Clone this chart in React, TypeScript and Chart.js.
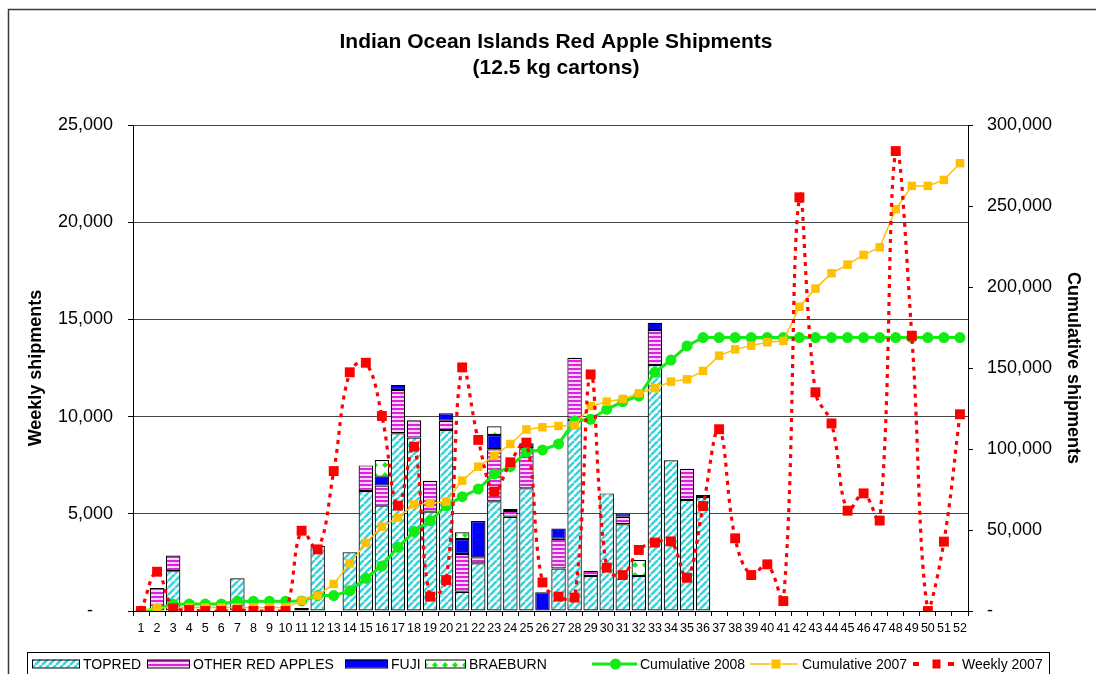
import React, { useEffect, useRef } from 'react';
import { Chart, registerables } from 'chart.js';

Chart.register(...registerables);

const FONT = '"Liberation Sans", Arial, sans-serif';

const TITLE = ['Indian Ocean Islands Red Apple Shipments', '(12.5 kg cartons)'];
const LEFT_TITLE = 'Weekly shipments';
const RIGHT_TITLE = 'Cumulative shipments';

const weeks = [
  '1', '2', '3', '4', '5', '6', '7', '8', '9', '10', '11', '12', '13',
  '14', '15', '16', '17', '18', '19', '20', '21', '22', '23', '24', '25', '26',
  '27', '28', '29', '30', '31', '32', '33', '34', '35', '36', '37', '38', '39',
  '40', '41', '42', '43', '44', '45', '46', '47', '48', '49', '50', '51', '52',
];

const N = null;

// weekly 2008 shipments (stacked bars), weeks 1..36
const topred = [
  N, N, 2050, N, N, N, 1680, N, N, N, 150, 3350, N,
  3020, 6170, 5420, 9140, 8920, 5110, 9310, 990, 2450, 5640, 4850, 6310, N,
  2190, 9820, 1800, 6050, 4460, 1800, 12650, 7750, 5710, 5870,
];
const otherRed = [
  N, 1180, 800, N, N, N, N, N, N, N, N, N, N,
  N, 1320, 1030, 2230, 890, 1590, 480, 1940, 310, 2680, 300, 2060, N,
  1530, 3210, 270, N, 390, N, 1800, N, 1610, 100,
];
const fuji = [
  N, N, N, N, N, N, N, N, N, N, N, N, N,
  N, N, 460, 260, N, N, 380, 770, 1870, 730, 100, 260, 960,
  520, N, N, N, 170, N, 380, N, N, N,
];
const braeburn = [
  N, N, N, N, N, N, N, N, N, N, N, N, N,
  N, N, 860, N, N, N, N, 350, N, 450, N, N, N,
  N, N, N, N, N, 820, N, N, N, N,
];

const cumulative2008 = [
  0, 1200, 4100, 4300, 4300, 4300, 6000, 6000, 6000, 6000, 6200, 9500, 9500,
  12500, 20200, 27800, 39300, 49000, 55700, 65000, 70600, 75300, 84600, 89100, 98300, 99400,
  103100, 117300, 118300, 124500, 129200, 132700, 147300, 154900, 163600, 168800, 168800, 168800, 168800,
  168800, 168800, 168800, 168800, 168800, 168800, 168800, 168800, 168800, 168800, 168800, 168800, 168800,
];

const cumulative2007 = [
  0, 2000, 2100, 2150, 2150, 2150, 2200, 2200, 2200, 2200, 6400, 9500, 16700,
  29400, 42000, 52000, 57600, 65800, 66500, 67500, 80500, 89100, 95700, 103100, 112100, 113400,
  114200, 114600, 126500, 129200, 130900, 134400, 137500, 141600, 143000, 148200, 157600, 161500, 163800,
  165900, 166700, 187800, 199000, 208500, 213800, 219800, 224500, 248000, 262400, 262400, 266100, 276400,
];

const weekly2007 = [
  0, 2020, 140, 50, 0, 0, 50, 0, 0, 0, 4130, 3170, 7200,
  12280, 12770, 10030, 5420, 8450, 740, 1590, 12530, 8800, 6140, 7650, 8660, 1470,
  740, 690, 12170, 2230, 1850, 3140, 3520, 3580, 1710, 5400, 9350, 3740, 1850,
  2400, 510, 21280, 11250, 9650, 5160, 6050, 4650, 23660, 14160, 0, 3570, 10120,
];

const LEFT_MAX = 25000;
const LEFT_STEP = 5000;
const RIGHT_MAX = 300000;
const RIGHT_STEP = 50000;

const CYAN = '#38D4DA';
const MAGENTA = '#E020E0';
const MAGENTA_LIGHT = '#FAD4FA';
const BLUE = '#0000FF';
const GREEN = '#12EC12';
const GOLD = '#FFC000';
const RED = '#FF0000';

function makePattern(w: number, h: number, draw: (g: CanvasRenderingContext2D) => void) {
  const c = document.createElement('canvas');
  c.width = w;
  c.height = h;
  const g = c.getContext('2d') as CanvasRenderingContext2D;
  draw(g);
  return g.createPattern(c, 'repeat') as CanvasPattern;
}

function fmt(v: number, dashPad: string) {
  if (v === 0) return '-' + dashPad;
  return v.toLocaleString('en-US');
}

export default function App() {
  const ref = useRef<HTMLCanvasElement | null>(null);

  useEffect(() => {
    const canvas = ref.current;
    if (!canvas) return;

    const topredPat = makePattern(7, 7, (g) => {
      g.fillStyle = '#FFFFFF';
      g.fillRect(0, 0, 7, 7);
      g.strokeStyle = CYAN;
      g.lineWidth = 2.6;
      g.beginPath();
      for (const k of [-7, 0, 7]) {
        g.moveTo(k, 7);
        g.lineTo(k + 7, 0);
      }
      g.stroke();
    });
    const otherPat = makePattern(4, 4, (g) => {
      g.fillStyle = MAGENTA_LIGHT;
      g.fillRect(0, 0, 4, 4);
      g.fillStyle = MAGENTA;
      g.fillRect(0, 0, 4, 2);
    });
    const braePat = makePattern(10, 10, (g) => {
      g.fillStyle = '#FFFFFF';
      g.fillRect(0, 0, 10, 10);
      g.fillStyle = GREEN;
      g.beginPath();
      g.moveTo(5, 2);
      g.lineTo(8, 5);
      g.lineTo(5, 8);
      g.lineTo(2, 5);
      g.closePath();
      g.fill();
    });

    const deco = {
      id: 'deco',
      afterDraw(chart: any) {
        const ctx = chart.ctx as CanvasRenderingContext2D;
        ctx.save();
        // outer frame
        ctx.strokeStyle = '#3a3a3a';
        ctx.lineWidth = 1.5;
        ctx.beginPath();
        ctx.moveTo(8.5, 674);
        ctx.lineTo(8.5, 9.5);
        ctx.lineTo(1096, 9.5);
        ctx.stroke();

        // title
        ctx.fillStyle = '#000';
        ctx.font = `bold 21px ${FONT}`;
        ctx.textAlign = 'center';
        ctx.textBaseline = 'middle';
        ctx.fillText(TITLE[0], 556, 42);
        ctx.fillText(TITLE[1], 556, 68);

        // legend
        ctx.lineWidth = 1;
        ctx.strokeStyle = '#000';
        ctx.strokeRect(27.5, 652.5, 1022, 40);
        const ty = 665;
        const sy = 659.5;
        const sh = 8;
        const boxes: [number, number, any, string][] = [
          [32, 47, topredPat, 'TOPRED'],
          [147, 42, otherPat, 'OTHER RED APPLES'],
          [345, 42, BLUE, 'FUJI'],
          [425, 40, braePat, 'BRAEBURN'],
        ];
        ctx.font = `14px ${FONT}`;
        ctx.textAlign = 'left';
        for (const [x, w, fill, label] of boxes) {
          ctx.fillStyle = fill;
          ctx.fillRect(x, sy, w, sh);
          ctx.strokeStyle = '#000';
          ctx.lineWidth = 1;
          ctx.strokeRect(x + 0.5, sy + 0.5, w, sh);
          ctx.fillStyle = '#000';
          ctx.fillText(label, x + w + 4, ty);
        }
        // cumulative 2008
        ctx.strokeStyle = GREEN;
        ctx.lineWidth = 3;
        ctx.beginPath();
        ctx.moveTo(592, 664);
        ctx.lineTo(637, 664);
        ctx.stroke();
        ctx.fillStyle = GREEN;
        ctx.beginPath();
        ctx.arc(615.5, 664, 5.5, 0, Math.PI * 2);
        ctx.fill();
        ctx.fillStyle = '#000';
        ctx.fillText('Cumulative 2008', 640, ty);
        // cumulative 2007
        ctx.strokeStyle = GOLD;
        ctx.lineWidth = 1.5;
        ctx.beginPath();
        ctx.moveTo(750, 664);
        ctx.lineTo(798, 664);
        ctx.stroke();
        ctx.fillStyle = GOLD;
        ctx.fillRect(771.5, 659.5, 9, 9);
        ctx.fillStyle = '#000';
        ctx.fillText('Cumulative 2007', 802, ty);
        // weekly 2007
        ctx.fillStyle = RED;
        ctx.fillRect(913, 662, 6, 4);
        ctx.fillRect(932.5, 659.5, 8, 9);
        ctx.fillRect(948, 662, 6, 4);
        ctx.fillStyle = '#000';
        ctx.fillText('Weekly 2007', 962, ty);
        ctx.restore();
      },
    };

    const barBase = {
      type: 'bar' as const,
      yAxisID: 'y',
      stack: 'bars',
      order: 3,
      borderColor: '#000',
      borderWidth: 1.2,
      borderSkipped: false,
      barPercentage: 0.9,
      categoryPercentage: 1,
    };

    const chart = new Chart(canvas, {
      type: 'bar',
      data: {
        labels: weeks,
        datasets: [
          { ...barBase, label: 'TOPRED', data: topred, backgroundColor: topredPat },
          { ...barBase, label: 'OTHER RED APPLES', data: otherRed, backgroundColor: otherPat },
          { ...barBase, label: 'FUJI', data: fuji, backgroundColor: BLUE },
          { ...barBase, label: 'BRAEBURN', data: braeburn, backgroundColor: braePat },
          {
            type: 'line',
            label: 'Cumulative 2008',
            data: cumulative2008,
            yAxisID: 'y1',
            stack: 'c2008',
            order: 2,
            borderColor: GREEN,
            backgroundColor: GREEN,
            borderWidth: 3,
            tension: 0,
            pointStyle: 'circle',
            pointRadius: 5.5,
            pointBorderWidth: 0,
            pointBackgroundColor: GREEN,
          },
          {
            type: 'line',
            label: 'Cumulative 2007',
            data: cumulative2007,
            yAxisID: 'y1',
            stack: 'c2007',
            order: 1,
            borderColor: GOLD,
            backgroundColor: GOLD,
            borderWidth: 1.5,
            tension: 0,
            pointStyle: 'rect',
            pointRadius: 6,
            pointBorderWidth: 0,
            pointBackgroundColor: GOLD,
          },
          {
            type: 'line',
            label: 'Weekly 2007',
            data: weekly2007,
            yAxisID: 'y',
            stack: 'w2007',
            order: 0,
            borderColor: RED,
            backgroundColor: RED,
            borderWidth: 3.2,
            borderDash: [4, 5],
            tension: 0.4,
            pointStyle: 'rect',
            pointRadius: 7,
            pointBorderWidth: 0,
            pointBackgroundColor: RED,
          },
        ] as any,
      },
      options: {
        responsive: false,
        animation: false,
        devicePixelRatio: 1,
        layout: { padding: { top: 125, left: 0, right: 0, bottom: 0 } },
        plugins: {
          legend: { display: false },
          title: { display: false },
          tooltip: { enabled: false },
        },
        scales: {
          x: {
            stacked: true,
            offset: true,
            grid: { offset: true, drawOnChartArea: false, tickLength: 5, tickColor: '#000' },
            border: { color: '#000' },
            ticks: {
              autoSkip: false,
              maxRotation: 0,
              color: '#000',
              font: { family: FONT, size: 12.5 },
              padding: 5,
            },
            afterFit: (s: any) => {
              s.height = 63;
            },
          },
          y: {
            stacked: true,
            position: 'left',
            min: 0,
            max: LEFT_MAX,
            ticks: {
              stepSize: LEFT_STEP,
              color: '#000',
              font: { family: FONT, size: 18 },
              padding: 15,
              callback: (v: any) => fmt(Number(v), '    '),
            },
            grid: { color: '#444', tickColor: '#000', tickLength: 5 },
            border: { color: '#000' },
            title: {
              display: true,
              text: LEFT_TITLE,
              color: '#000',
              font: { family: FONT, size: 18, weight: 'bold' },
              padding: { top: 25, bottom: 0 },
            },
            afterFit: (s: any) => {
              s.width = 133;
            },
          },
          y1: {
            position: 'right',
            min: 0,
            max: RIGHT_MAX,
            ticks: {
              stepSize: RIGHT_STEP,
              color: '#000',
              font: { family: FONT, size: 18 },
              padding: 14,
              callback: (v: any) => fmt(Number(v), ''),
            },
            grid: { drawOnChartArea: false, tickColor: '#000', tickLength: 5 },
            border: { color: '#000' },
            title: {
              display: true,
              text: RIGHT_TITLE,
              color: '#000',
              font: { family: FONT, size: 18, weight: 'bold' },
              padding: { top: 12, bottom: 0 },
            },
            afterFit: (s: any) => {
              s.width = 128;
            },
          },
        },
      } as any,
      plugins: [deco],
    });

    return () => chart.destroy();
  }, []);

  return (
    <div style={{ position: 'fixed', left: 0, top: 0, width: 1096, height: 674, background: '#fff' }}>
      <canvas ref={ref} width={1096} height={674} style={{ display: 'block', width: 1096, height: 674 }} />
    </div>
  );
}
